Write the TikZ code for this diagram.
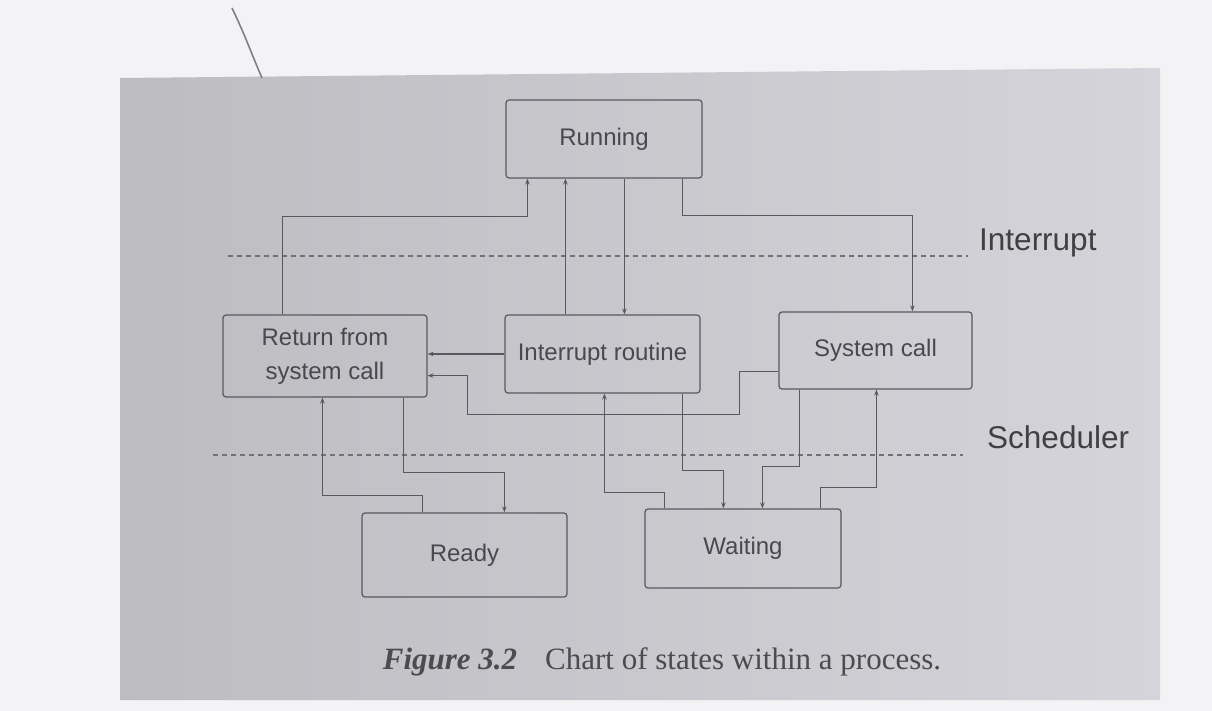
\documentclass[tikz,border=0pt]{standalone}
\usepackage{fontspec}
\setmainfont{Liberation Serif}
\setsansfont{Liberation Sans}
\usetikzlibrary{calc,arrows.meta}
\definecolor{pagebg}{RGB}{243,243,246}
\definecolor{panelL}{RGB}{188,188,193}
\definecolor{panelR}{RGB}{212,212,218}
\definecolor{ink}{RGB}{88,88,94}
\definecolor{txt}{RGB}{72,72,78}
\begin{document}
\begin{tikzpicture}[x=1pt,y=-1pt,
  state/.style={draw=ink, line width=1.2pt, rounded corners=3pt, align=center,
    font=\sffamily\fontsize{24}{34}\selectfont, text=txt, inner sep=0pt},
  conn/.style={draw=ink, line width=1.2pt},
  arr/.style={conn, -{Stealth[length=6pt,width=4.5pt]}},
  level/.style={draw=ink!85, line width=1.1pt, dash pattern=on 5pt off 4pt},
  lvl/.style={font=\sffamily\fontsize{31.5}{36}\selectfont, text=black!75, anchor=west, inner sep=0pt}]
\fill[pagebg] (0,0) rectangle (1212,711);
\useasboundingbox (0,0) rectangle (1212,711);
\shade[left color=panelL, right color=panelR] (120,78) -- (1160,68) -- (1160,700) -- (120,700) -- cycle;
\draw[black!50, line width=1.6pt] (232,8) .. controls (245,35) and (252,55) .. (262,78);

% states
\node[state, minimum width=196pt, minimum height=78pt] (run) at (604,139) {Running};
\node[state, minimum width=204pt, minimum height=82pt] (ret) at (325,356) {Return from\\system call};
\node[state, minimum width=195pt, minimum height=78pt] (int) at (602.5,354) {Interrupt routine};
\node[state, minimum width=193pt, minimum height=77pt] (sys) at (875.5,350.5) {System call};
\node[state, minimum width=205pt, minimum height=84pt] (rdy) at (464.5,555) {Ready};
\node[state, minimum width=196pt, minimum height=79pt] (wai) at (743,548.5) {Waiting};

% level labels and dashed separators
\node[lvl] (lint) at (979,243) {Interrupt};
\node[lvl] (lsch) at (987,437) {Scheduler};
\draw[level] (228,256) -- (968,256);
\draw[level] (213,455) -- (963,455);

% connectors
\draw[arr] ($(ret.north west)+(60,0)$) |- ($(run.south west)+(22,38)$) -- ($(run.south west)+(22,0)$);
\draw[arr] ($(int.north west)+(61,0)$) -- ($(run.south west)+(60,0)$);
\draw[arr] ($(run.south west)+(119,0)$) -- ($(int.north west)+(120,0)$);
\draw[arr] ($(run.south west)+(177,0)$) |- ($(sys.north west)+(134,-96)$) -- ($(sys.north west)+(134,0)$);
\draw[arr] (int.west) -- (int.west -| ret.east);
\draw[arr] ($(sys.south west)+(0,-18)$) -| ($(sys.south west)+(-39,25)$) -| ($(ret.south east)+(40,-22)$) -- ($(ret.south east)+(0,-22)$);
\draw[arr] ($(rdy.north west)+(61,0)$) |- ($(ret.south west)+(100,98)$) -- ($(ret.south west)+(100,0)$);
\draw[arr] ($(ret.south west)+(181,0)$) |- ($(rdy.north west)+(143,-40)$) -- ($(rdy.north west)+(143,0)$);
\draw[arr] ($(wai.north west)+(20,0)$) |- ($(int.south west)+(100,99)$) -- ($(int.south west)+(100,0)$);
\draw[arr] ($(int.south west)+(178,0)$) |- ($(wai.north west)+(79,-38)$) -- ($(wai.north west)+(79,0)$);
\draw[arr] ($(sys.south west)+(21,0)$) |- ($(wai.north west)+(118,-42)$) -- ($(wai.north west)+(118,0)$);
\draw[arr] ($(wai.north west)+(176,0)$) |- ($(sys.south west)+(98,98)$) -- ($(sys.south west)+(98,0)$);

% caption
\node[font=\fontsize{31}{35}\selectfont, text=black!70, inner sep=0pt] (cap) at (662,662)
  {\textbf{\textit{Figure 3.2}}\hspace{0.9em}Chart of states within a process.};
\end{tikzpicture}
\end{document}
